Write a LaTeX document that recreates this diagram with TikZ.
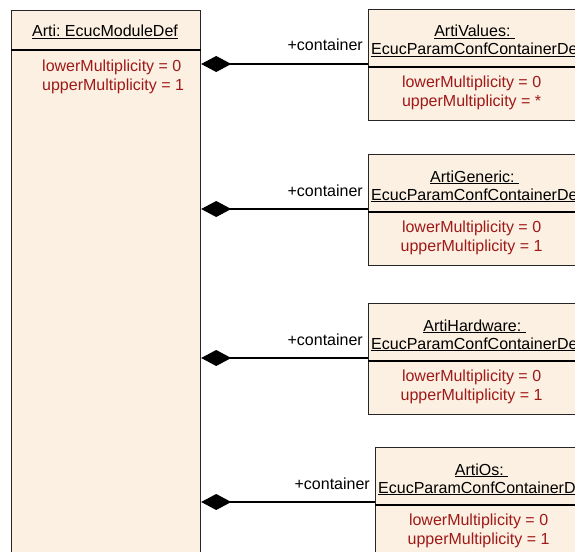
\documentclass[tikz,border=0pt]{standalone}
\usepackage{fontspec}
\setmainfont{Liberation Sans}
\usetikzlibrary{arrows.meta}
\definecolor{classfill}{RGB}{251,240,225}
\definecolor{attrred}{RGB}{160,25,25}
\frenchspacing
\tikzset{
  classbox/.style={draw=black!85,fill=classfill,line width=1.2pt,anchor=north west,
    minimum width=212pt,minimum height=111pt,inner sep=0pt},
  title/.style={anchor=base,inner sep=0pt,font=\fontsize{16}{19}\selectfont},
  attr/.style={anchor=base,text=attrred,inner sep=0pt,font=\fontsize{16}{19}\selectfont},
  role/.style={anchor=base east,inner sep=0pt,font=\fontsize{16}{19}\selectfont},
  composite/.style={line width=1.2pt,-{Diamond[length=30pt,width=16pt]}}
}
\begin{document}
\begin{tikzpicture}[x=1pt,y=-1pt]
\useasboundingbox (0,0) rectangle (575,551);
\clip (0,0) rectangle (575,551);
% module
\node[classbox,minimum width=189pt,minimum height=600pt] (arti) at (11,10) {};
\draw[line width=1.2pt] (arti.west |- 0,50) -- (arti.east |- 0,50);
\node[title] (artititle) at (105,37) {\underline{Arti: EcucModuleDef}};
\node[attr,anchor=base west] (artilower) at (42,71) {lowerMultiplicity = 0};
\node[attr,anchor=base west] (artiupper) at (42,90) {upperMultiplicity = 1};
% containers
\foreach \cname/\ctitle/\ctop/\cleft/\cupper in {values/ArtiValues/9/368/*,
    generic/ArtiGeneric/154/368/1,hardware/ArtiHardware/303/368/1,os/ArtiOs/447/375/1}{
  \node[classbox] (\cname) at (\cleft,\ctop) {};
  \draw[line width=1.2pt] ([yshift=-58pt]\cname.north west) -- ([yshift=-58pt]\cname.north east);
  \node[title] (\cname t1) at ([yshift=-28pt]\cname.north) {\underline{\ctitle:\ }};
  \node[title] (\cname t2) at ([xshift=2pt,yshift=-46pt]\cname.north) {\underline{EcucParamConfContainerDef}};
  \node[attr] (\cname lower) at ([xshift=-3pt,yshift=-78pt]\cname.north) {lowerMultiplicity = 0};
  \node[attr] (\cname upper) at ([xshift=-3pt,yshift=-97pt]\cname.north) {upperMultiplicity = \cupper};
  \coordinate (\cname c) at ([yshift=-55pt]\cname.north west);
  \draw[composite] (\cname c) -- (arti.east |- \cname c);
  \node[role] (\cname role) at ([xshift=-5pt,yshift=13pt]\cname c) {+container};
}
\end{tikzpicture}
\end{document}
